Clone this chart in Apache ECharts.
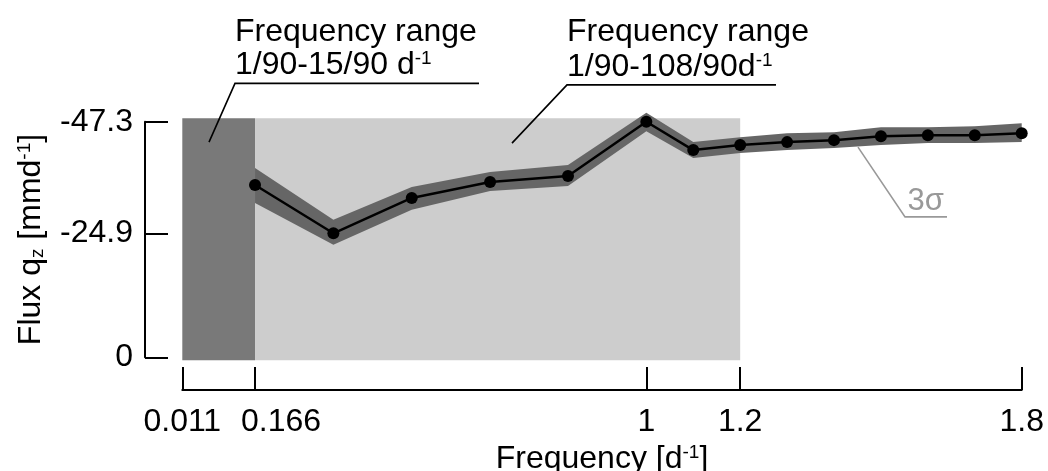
<!DOCTYPE html>
<html><head><meta charset="utf-8">
<script src="https://cdn.jsdelivr.net/npm/echarts@6/dist/echarts.min.js"></script>
<style>html,body{margin:0;padding:0;background:#fff}#c{width:1048px;height:471px}</style>
</head><body><div id="c"></div>
<script>
// ---- data ----
const frequency = [0.166, 0.333, 0.5, 0.667, 0.833, 1.0, 1.1, 1.2, 1.3, 1.4, 1.5, 1.6, 1.7, 1.8];
const flux = [-34.6, -24.9, -32.0, -35.2, -36.4, -47.3, -41.6, -42.6, -43.2, -43.6, -44.4, -44.6, -44.6, -45.0];
const sigmaEdgeHigh = [-38.0, -27.6, -34.2, -37.2, -38.6, -49.1, -43.2, -44.2, -45.0, -45.2, -46.2, -46.2, -46.4, -47.0];
const sigmaEdgeLow = [-31.0, -22.6, -29.6, -33.4, -34.4, -45.4, -40.0, -41.0, -41.6, -42.0, -42.6, -43.0, -43.0, -43.2];
const rangeStart = [0.011, 0.166];
const rangeEnd = [0.166, 1.2];
const xTicks = [0.011, 0.166, 1, 1.2, 1.8];
const yTicks = [-47.3, -24.9, 0];

// ---- styling ----
const FONT = "'Liberation Sans', Arial, Helvetica, sans-serif";
const FS = 32;
const shadeColors = ['#797979', '#cdcdcd'];
const supStyle = {fontSize: 19, fontFamily: FONT, color: '#000', verticalAlign: 'top'};
const subStyle = {fontSize: 19, fontFamily: FONT, color: '#000', verticalAlign: 'bottom'};

// annotation anchors in data coordinates
const annotations = [
  {lines: ['Frequency range', '1/90-15/90 d{sup|-1}'], textX: 0.1233, textY: [-65.3, -58.7],
   rule: [0.1233, 0.6434, -55.0], leader: [0.0679, -43.2], color: '#000', fontSize: FS},
  {lines: ['Frequency range', '1/90-108/90d{sup|-1}'], textX: 0.831, textY: [-65.2, -58.3],
   rule: [0.8309, 1.2763, -54.7], leader: [0.7137, -43.0], color: '#000', fontSize: FS},
  {lines: ['3σ'], textX: 1.5565, textY: [-31.2],
   rule: [1.5513, 1.6408, -28.2], leader: [1.4511, -42.2], color: '#999', fontSize: 31}
];

const chart = echarts.init(document.getElementById('c'), null, {renderer: 'canvas'});
const yMin = yTicks[0], yMax = yTicks[yTicks.length - 1];

chart.setOption({
  animation: false,
  backgroundColor: '#fff',
  grid: {left: 182.3, right: 26.3, top: 121.7, bottom: 113.7, containLabel: false, outerBoundsMode: 'none'},
  xAxis: {
    type: 'value', min: xTicks[0], max: xTicks[xTicks.length - 1], position: 'bottom', offset: 32.7,
    axisLine: {show: true, onZero: false, lineStyle: {color: '#000', width: 2}},
    axisTick: {show: true, inside: true, length: 23, lineStyle: {color: '#000', width: 2}, customValues: xTicks},
    axisLabel: {
      customValues: xTicks, margin: 16, color: '#000', fontSize: FS, fontFamily: FONT, hideOverlap: false,
      formatter: v => v === xTicks[1] ? '{shift|' + v + '}' : String(v),
      rich: {shift: {padding: [0, 0, 0, 52], fontSize: FS, fontFamily: FONT, color: '#000'}}
    },
    splitLine: {show: false},
    name: 'Frequency [d{sup|-1}]', nameLocation: 'middle', nameGap: 50,
    nameTextStyle: {fontSize: FS, color: '#000', fontFamily: FONT, rich: {sup: supStyle}}
  },
  yAxis: {
    type: 'value', min: yMin, max: yMax, inverse: true, position: 'left', offset: 37.3,
    axisLine: {show: true, onZero: false, lineStyle: {color: '#000', width: 2}},
    axisTick: {show: true, inside: true, length: 23, lineStyle: {color: '#000', width: 2}, customValues: yTicks},
    axisLabel: {customValues: yTicks, margin: 12, color: '#000', fontSize: FS, fontFamily: FONT, hideOverlap: false,
      formatter: v => String(v)},
    splitLine: {show: false},
    name: 'Flux q{sub|z} [mmd{sup|-1}]', nameLocation: 'middle', nameRotate: 90, nameGap: 98,
    nameTextStyle: {fontSize: FS, color: '#000', fontFamily: FONT, rich: {sup: supStyle, sub: subStyle}}
  },
  series: [
    {
      type: 'custom', name: 'ranges', z: 1, clip: false, silent: true,
      data: rangeStart.map((s, i) => [s, rangeEnd[i], 0]),
      encode: {x: [0, 1], y: 2},
      renderItem: (params, api) => {
        const a = api.coord([api.value(0), yMax]);
        const b = api.coord([api.value(1), yMin]);
        return {type: 'rect', shape: {x: a[0], y: b[1] - 3.5, width: b[0] - a[0], height: a[1] - b[1] + 6.5},
          style: {fill: shadeColors[params.dataIndex]}};
      }
    },
    {
      type: 'custom', name: '3sigma', z: 2, clip: false, silent: true,
      data: frequency.map((f, i) => [f, sigmaEdgeHigh[i], sigmaEdgeLow[i]]),
      encode: {x: 0, y: [1, 2]},
      renderItem: (params, api) => {
        if (params.dataIndex !== 0) return null;
        const pts = [];
        for (let i = 0; i < frequency.length; i++) pts.push(api.coord([frequency[i], sigmaEdgeHigh[i]]));
        for (let i = frequency.length - 1; i >= 0; i--) pts.push(api.coord([frequency[i], sigmaEdgeLow[i]]));
        return {type: 'polygon', shape: {points: pts}, style: {fill: '#666666'}};
      }
    },
    {
      type: 'line', name: 'flux', z: 3, clip: false, silent: true,
      data: frequency.map((f, i) => [f, flux[i]]),
      symbol: 'circle', symbolSize: 12, showAllSymbol: true,
      itemStyle: {color: '#000', borderWidth: 0},
      lineStyle: {color: '#000', width: 2.5}
    },
    {
      type: 'custom', name: 'annotations', z: 4, clip: false, silent: true,
      data: [[xTicks[0], 0]],
      encode: {x: 0, y: 1},
      renderItem: (params, api) => {
        const children = [];
        annotations.forEach(an => {
          const r0 = api.coord([an.rule[0], an.rule[2]]);
          const r1 = api.coord([an.rule[1], an.rule[2]]);
          const l = api.coord([an.leader[0], an.leader[1]]);
          children.push({type: 'polyline', shape: {points: [l, r0, r1]},
            style: {stroke: an.color, lineWidth: 1.6, fill: 'none'}});
          an.lines.forEach((t, k) => {
            const p = api.coord([an.textX, an.textY[k]]);
            children.push({type: 'text', style: {x: p[0], y: p[1], text: t, fill: an.color,
              fontSize: an.fontSize, fontFamily: FONT, align: 'left', verticalAlign: 'middle',
              rich: {sup: Object.assign({}, supStyle, {color: an.color})}}});
          });
        });
        return {type: 'group', children};
      }
    }
  ]
});
</script>
</body></html>
